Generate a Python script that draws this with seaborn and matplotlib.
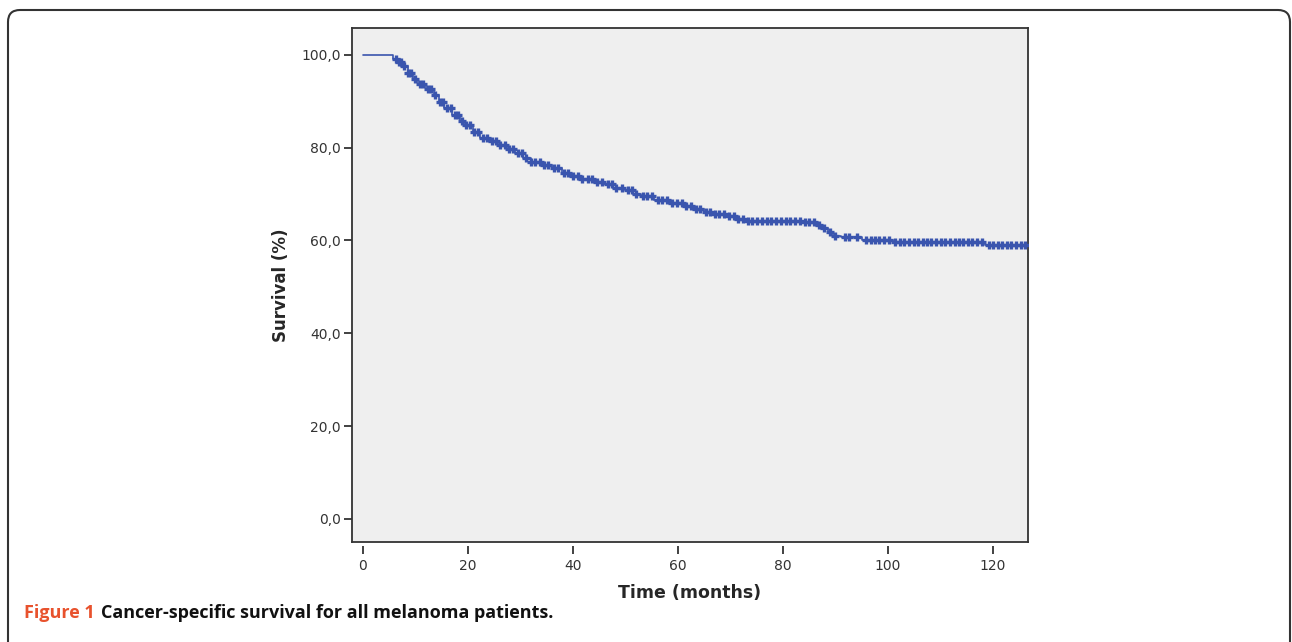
import numpy as np
import seaborn as sns
import matplotlib.pyplot as plt
from matplotlib.patches import FancyBboxPatch
from matplotlib.transforms import IdentityTransform, offset_copy
from matplotlib.ticker import FuncFormatter

# Kaplan-Meier steps (time in months, survival in %)
event_times = [0, 5.8, 6.5, 7.5, 8.5, 9.5, 10.5, 12, 13.5, 14.5, 15.5, 17, 18.5, 19.5,
               21, 22.3, 24, 26, 27.5, 29, 30.5, 32, 34, 36, 38, 39.5, 41, 44, 46,
               47.6, 50, 51.5, 53, 55.5, 58, 61, 63, 65, 67, 69, 71, 73, 84, 86,
               87.5, 88.5, 89.5, 91, 95, 101, 118.5]
survival = [100, 99.2, 98.5, 97.5, 96.2, 94.8, 93.7, 92.6, 91.3, 89.8, 88.6, 87.0, 85.8,
            84.8, 83.3, 82.0, 81.4, 80.6, 79.8, 78.8, 77.8, 77.0, 76.3, 75.7, 74.6,
            73.8, 73.2, 72.7, 72.1, 71.4, 70.8, 70.0, 69.5, 68.8, 68.0, 67.5, 66.8,
            66.2, 65.7, 65.2, 64.6, 64.3, 63.9, 63.4, 62.6, 61.8, 61.0, 60.8, 60.2,
            59.7, 59.0]

# censored observations
censor_times = [6.2, 6.8, 7.3, 7.9, 8.6, 9.2, 10.0, 10.8, 11.4, 12.3, 12.9, 13.8, 14.6,
                15.2, 16.0, 16.7, 17.5, 18.1, 18.9, 19.6, 20.4, 21.2, 22.0, 22.8, 23.7,
                24.5, 25.3, 26.2, 27.0, 27.8, 28.6, 29.5, 30.3, 31.1, 32.0, 32.8, 33.7,
                34.5, 35.3, 36.4, 37.2, 38.3, 39.1, 40.0, 40.9, 41.8, 42.9, 43.7, 44.6,
                45.5, 46.6, 47.4, 48.2, 49.3, 50.4, 51.2, 52.1, 53.3, 54.1, 55.0, 56.2,
                57.0, 57.9, 58.8, 59.8, 60.7, 61.6, 62.5, 63.4, 64.3, 65.3, 66.1, 67.0,
                67.9, 68.8, 69.8, 70.6, 71.5, 72.4, 73.3, 74.2, 75.1, 76.0, 76.9, 77.8,
                78.7, 79.6, 80.5, 81.4, 82.3, 83.2, 84.2, 85.0, 85.9, 86.8, 87.8, 88.9,
                89.9, 91.8, 92.6, 94.2, 95.9, 96.7, 97.6, 98.4, 99.3, 100.2, 101.4, 102.3,
                103.1, 104.0, 104.9, 105.7, 106.6, 107.5, 108.3, 109.2, 110.1, 110.9,
                111.8, 112.7, 113.5, 114.4, 115.3, 116.1, 117.0, 117.9, 119.2, 120.1,
                120.9, 121.8, 122.7, 123.5, 124.4, 125.3, 126.1]

x_ticks = [0, 20, 40, 60, 80, 100, 120]
y_ticks = [0, 20, 40, 60, 80, 100]

blue = "#3a55ae"

sns.set_style("white")
fig = plt.figure(figsize=(12.92, 6.42), dpi=100)
ax = fig.add_axes([0.2724, 0.1558, 0.5233, 0.8006])
ax.set_facecolor("#efefef")

# step curve, carried out to the last censored case
line_x = event_times + [censor_times[-1]]
line_y = survival + [survival[-1]]
sns.lineplot(x=line_x, y=line_y, drawstyle="steps-post", color=blue, linewidth=1.2,
             ax=ax, sort=False)

# censor marks sit on the curve
idx = np.searchsorted(event_times, censor_times, side="right") - 1
censor_y = [survival[i] for i in idx]
sns.scatterplot(x=censor_times, y=censor_y, marker="+", s=40, linewidth=2.4,
                color=blue, ax=ax, zorder=3)

ax.set_xlim(-2.1, 126.7)
ax.set_ylim(-5.0, 105.8)

for s in ax.spines.values():
    s.set_color("#333333")
    s.set_linewidth(1.3)

ax.set_yticks(y_ticks)
ax.yaxis.set_major_formatter(FuncFormatter(lambda v, p: f"{v:.1f}".replace(".", ",")))
ax.tick_params(axis="y", direction="out", length=6, width=1.3, color="#333333",
               labelsize=10, labelcolor="#333333", pad=2, left=True)
ax.tick_params(axis="x", bottom=False, labelbottom=False)
ax.set_ylabel("Survival (%)", fontsize=12, fontweight="bold", labelpad=8)

# detached x axis ticks, SPSS style
secax = ax.secondary_xaxis(-0.008)
secax.spines["bottom"].set_visible(False)
secax.set_xticks(x_ticks)
secax.tick_params(axis="x", direction="out", length=6, width=1.3, color="#333333",
                  labelsize=10, labelcolor="#333333", pad=3)
secax.set_xlabel("Time (months)", fontsize=12.5, fontweight="bold", labelpad=8)

# rounded border around the figure panel
fig.add_artist(FancyBboxPatch((8, -30), 1282, 662, boxstyle="round,pad=0,rounding_size=12",
                              transform=IdentityTransform(), fill=False,
                              edgecolor="#333333", linewidth=1.5))

# caption: coloured label followed by the title text
lab = fig.text(24 / 1292, 0.037, "Figure 1", color="#e8522d", fontsize=13,
               fontweight="bold", family="Open Sans")
fig.canvas.draw()
w = lab.get_window_extent().width
fig.text(24 / 1292, 0.037, "Cancer-specific survival for all melanoma patients.",
         color="#111111", fontsize=13, fontweight="bold", family="Open Sans",
         transform=offset_copy(fig.transFigure, fig=fig, x=w + 6, units="dots"))

fig.savefig("out.png", dpi=100)
